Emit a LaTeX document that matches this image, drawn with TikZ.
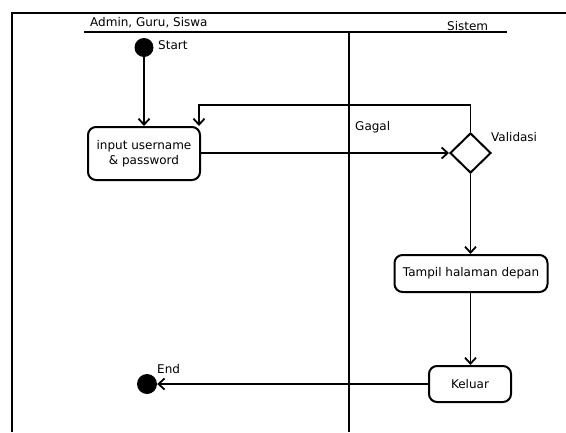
\documentclass[tikz,border=0pt]{standalone}
\usepackage{fontspec}
\setmainfont{DejaVu Sans}
\usetikzlibrary{arrows.meta,shapes.geometric}
\begin{document}
\begin{tikzpicture}[x=1pt,y=-1pt,
    font=\fontsize{12}{14}\selectfont,
    lane/.style={line width=1.8pt},
    arr/.style={line width=1.8pt,-{Straight Barb[length=6pt,width=11pt,line width=1.8pt]}},
    act/.style={draw,line width=2pt,rounded corners=8pt,align=center,inner sep=0pt},
    dot/.style={circle,fill=black,inner sep=0pt},
    tag/.style={anchor=west,inner sep=0pt}]
  \useasboundingbox (0,0) rectangle (566,432);
  % frame and lanes
  \draw[line width=2.6pt] (12,432) -- (12,13) -- (566,13);
  \draw[lane] (84,32) -- (507,32);
  \draw[lane] (349,32) -- (349,432);
  \node[anchor=base west,inner sep=0pt] (user) at (90,26) {Admin, Guru, Siswa};
  \node[anchor=base west,inner sep=0pt] (sys) at (447,30) {Sistem};
  % Admin, Guru, Siswa
  \node[dot,minimum size=19pt] (start) at (144,47.5) {};
  \node[tag] (startlbl) at (158,45) {Start};
  \node[act,minimum width=112pt,minimum height=53pt] (input) at (144,153.5)
    {input username\\[1pt]\& password};
  \node[dot,minimum size=20pt] (end) at (147,384) {};
  \node[tag] (endlbl) at (157,369) {End};
  % Sistem
  \node[diamond,draw,line width=2pt,inner sep=0pt,minimum width=41pt,minimum height=40pt] (valid) at (470.5,153) {};
  \node[tag] (validlbl) at (491,137) {Validasi};
  \node[tag] (gagal) at (355,127) {Gagal};
  \node[act,minimum width=153pt,minimum height=37pt] (tampil) at (471,273.5) {Tampil halaman depan};
  \node[act,minimum width=82pt,minimum height=36pt] (keluar) at (470,384) {Keluar};
  % flows
  \coordinate (loop) at (199,105);
  \draw[arr] (start) -- (input);
  \draw[arr] (input.east |- valid.west) -- (valid.west);
  \draw[arr] (valid.north) |- (loop) -- (loop |- input.north);
  \draw[arr] (valid.south) -- (valid.south |- tampil.north);
  \draw[arr] (tampil.south -| valid.south) -- (valid.south |- keluar.north);
  \draw[arr] (keluar.west) -- (end);
\end{tikzpicture}
\end{document}
